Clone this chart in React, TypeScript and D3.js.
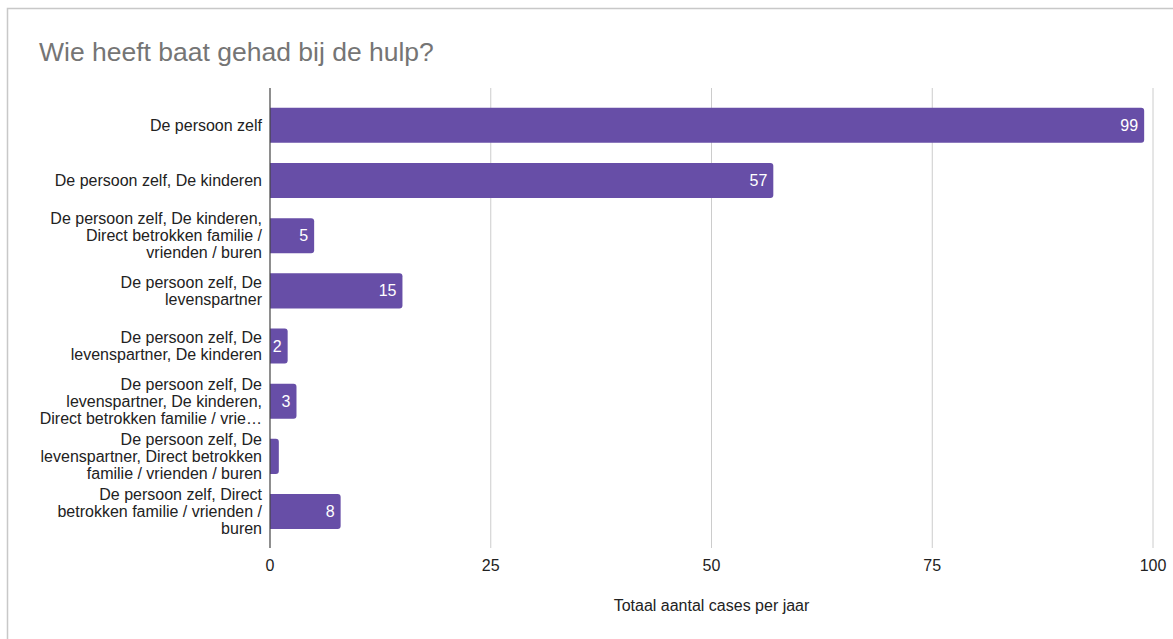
import React from "react";
import * as d3 from "d3";

const categories: string[] = [
  "De persoon zelf",
  "De persoon zelf, De kinderen",
  "De persoon zelf, De kinderen,\nDirect betrokken familie /\nvrienden / buren",
  "De persoon zelf, De\nlevenspartner",
  "De persoon zelf, De\nlevenspartner, De kinderen",
  "De persoon zelf, De\nlevenspartner, De kinderen,\nDirect betrokken familie / vrie…",
  "De persoon zelf, De\nlevenspartner, Direct betrokken\nfamilie / vrienden / buren",
  "De persoon zelf, Direct\nbetrokken familie / vrienden /\nburen",
];
const values: number[] = [99, 57, 5, 15, 2, 3, 1, 8];
const xTicks: number[] = [0, 25, 50, 75, 100];
const title = "Wie heeft baat gehad bij de hulp?";
const xTitle = "Totaal aantal cases per jaar";

const W = 1173;
const H = 639;
const FONT = "'Liberation Sans', Arial, sans-serif";

export default function App() {
  const left = 270, right = 1153, top = 88, bottom = 548;
  const x = d3.scaleLinear().domain([0, 100]).range([left, right]);
  const y = d3
    .scaleBand<number>()
    .domain(d3.range(categories.length))
    .range([97.9, 539])
    .paddingInner(0.365)
    .paddingOuter(0.18);
  const bh = y.bandwidth();
  const r = 3;
  const barPath = (v: number, y0: number) => {
    const x0 = x(0), x1 = x(v);
    const rr = Math.min(r, (x1 - x0) / 2);
    return `M${x0},${y0}H${x1 - rr}Q${x1},${y0} ${x1},${y0 + rr}V${y0 + bh - rr}Q${x1},${y0 + bh} ${x1 - rr},${y0 + bh}H${x0}Z`;
  };
  return (
    <svg width={W} height={H} style={{ position: "absolute", left: 0, top: 0, display: "block" }}>
      <rect x={0} y={0} width={W} height={H} fill="#fff" />
      <rect x={7.5} y={8.5} width={W + 10} height={H + 10} fill="none" stroke="#c8c8c8" strokeWidth={1.5} />
      <text x={39} y={61} fontFamily={FONT} fontSize={26.5} fill="#757575">
        {title}
      </text>
      {xTicks.slice(1).map((t) => (
        <line key={t} x1={x(t)} x2={x(t)} y1={top} y2={bottom} stroke="#cccccc" strokeWidth={1} />
      ))}
      {values.map((v, i) => {
        const y0 = y(i)!;
        const w = x(v) - x(0);
        const label = String(v);
        const showLabel = w >= 10;
        return (
          <g key={i}>
            <path d={barPath(v, y0)} fill="#674ea7" />
            {showLabel && (
              <text
                x={x(v) - (w < 14 ? w / 2 : 6)}
                y={y0 + bh / 2}
                dy="0.35em"
                textAnchor={w < 14 ? "middle" : "end"}
                fontFamily={FONT}
                fontSize={16}
                fill="#ffffff"
              >
                {label}
              </text>
            )}
          </g>
        );
      })}
      <line x1={x(0)} x2={x(0)} y1={top} y2={bottom} stroke="#444" strokeWidth={1.2} />
      {categories.map((c, i) => {
        const lines = c.split("\n");
        const cy = y(i)! + bh / 2;
        const lh = 17;
        const start = cy - ((lines.length - 1) * lh) / 2;
        return (
          <text key={i} textAnchor="end" fontFamily={FONT} fontSize={16} fill="#222">
            {lines.map((l, j) => (
              <tspan key={j} x={262} y={start + j * lh} dy="0.35em">
                {l}
              </tspan>
            ))}
          </text>
        );
      })}
      {xTicks.map((t) => (
        <text key={t} x={x(t)} y={571} textAnchor="middle" fontFamily={FONT} fontSize={16} fill="#222">
          {t}
        </text>
      ))}
      <text x={(left + right) / 2} y={611} textAnchor="middle" fontFamily={FONT} fontSize={16} fill="#222">
        {xTitle}
      </text>
    </svg>
  );
}
